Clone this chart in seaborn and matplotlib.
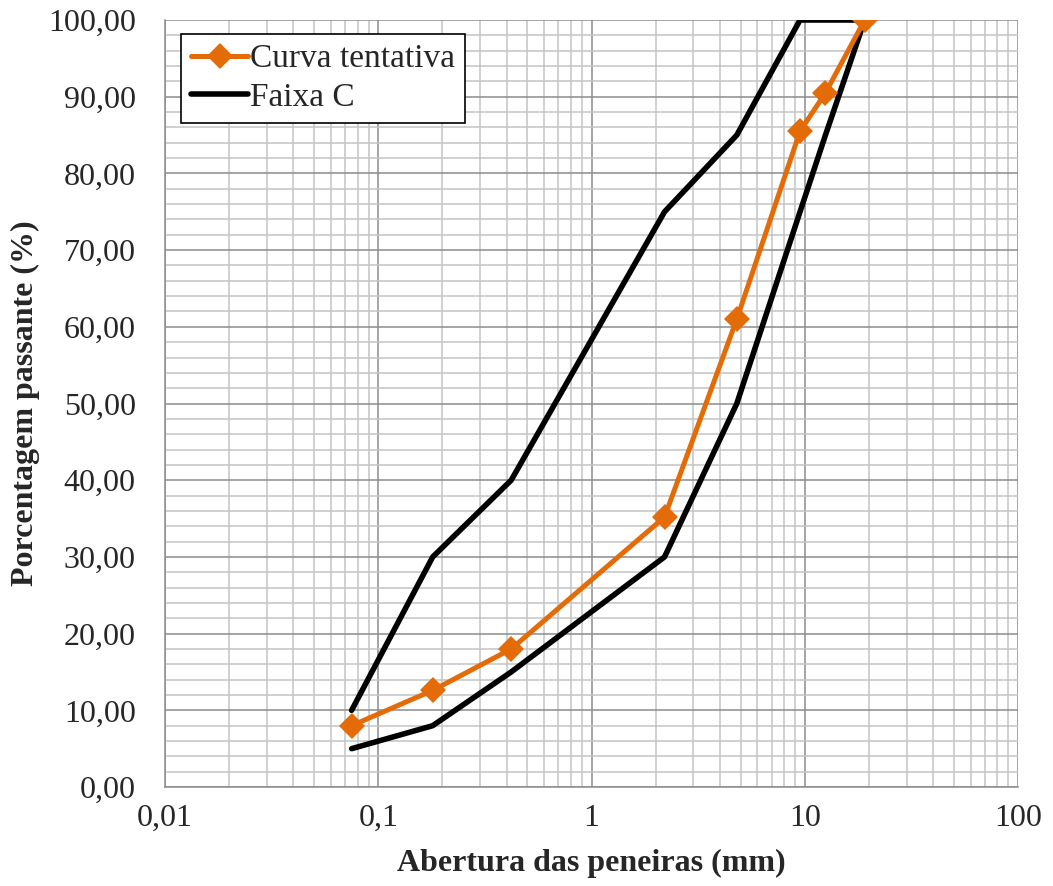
import numpy as np
import pandas as pd
import matplotlib
matplotlib.use("Agg")
import matplotlib.pyplot as plt
import seaborn as sns
from matplotlib.ticker import FuncFormatter, LogLocator, MultipleLocator

# ------------------ DATA ------------------

sieves = [0.075, 0.18, 0.42, 2.2, 4.8, 9.5, 12.5, 19.1]
curva_tentativa = [8.0, 12.6, 18.0, 35.2, 61.0, 85.5, 90.5, 100.0]
faixa_sup = [10.0, 30.0, 40.0, 75.0, 85.0, 100.0, 100.0, 100.0]
faixa_inf = [5.0, 8.0, 15.0, 30.0, 50.0, 75.0, 85.0, 100.0]

x_ticks = [0.01, 0.1, 1, 10, 100]
x_tick_labels = ["0,01", "0,1", "1", "10", "100"]

df = pd.DataFrame({
    "abertura": sieves,
    "curva": curva_tentativa,
    "sup": faixa_sup,
    "inf": faixa_inf,
})

# ------------------ STYLE ------------------

sns.set_style("white")
plt.rcParams["font.family"] = ["Liberation Serif", "DejaVu Serif"]

ORANGE = "#E36C09"
GRID_MAJOR = "#8c8c8c"
GRID_MINOR = "#c4c4c4"

fig = plt.figure(figsize=(10.53, 8.86), dpi=100)
ax = fig.add_axes([0.1567, 0.1117, 0.8101, 0.8657])

# ------------------ PLOT ------------------

sns.lineplot(data=df, x="abertura", y="curva", ax=ax, color=ORANGE,
             linewidth=3.6, marker="D", markersize=13.5, markeredgewidth=0,
             sort=False, label="Curva tentativa", zorder=4)
sns.lineplot(data=df, x="abertura", y="sup", ax=ax, color="black",
             linewidth=4.0, sort=False, label="Faixa C", zorder=3)
sns.lineplot(data=df, x="abertura", y="inf", ax=ax, color="black",
             linewidth=4.0, sort=False, label="_nolegend_", zorder=3)

ax.set_xscale("log")
ax.set_xlim(0.01, 100)
ax.set_ylim(0, 100)

ax.xaxis.set_minor_locator(LogLocator(base=10, subs=np.arange(2, 10), numticks=50))
ax.set_xticks(x_ticks)
ax.set_xticklabels(x_tick_labels)

ax.yaxis.set_major_locator(MultipleLocator(10))
ax.yaxis.set_minor_locator(MultipleLocator(2))
ax.yaxis.set_major_formatter(FuncFormatter(lambda v, p: f"{v:.2f}".replace(".", ",")))

ax.grid(which="major", color=GRID_MAJOR, linewidth=1.1)
ax.grid(which="minor", color=GRID_MINOR, linewidth=1.1)
ax.set_axisbelow(True)

ax.tick_params(which="major", direction="out", length=7, width=1.1,
               color=GRID_MAJOR, labelsize=23)
ax.tick_params(axis="y", which="major", pad=14)
ax.tick_params(axis="x", which="major", pad=5)
ax.tick_params(which="minor", length=0)

for side in ["top", "right"]:
    ax.spines[side].set_visible(False)
for side in ["left", "bottom"]:
    ax.spines[side].set_color(GRID_MAJOR)
    ax.spines[side].set_linewidth(1.1)

ax.set_xlabel("Abertura das peneiras (mm)", fontsize=23, fontweight="bold", labelpad=12)
ax.set_ylabel("Porcentagem passante (%)", fontsize=23, fontweight="bold", labelpad=6)

leg = ax.legend(loc="upper left", bbox_to_anchor=(0.019, 0.982), fontsize=24,
                frameon=True, fancybox=False, edgecolor="black", framealpha=1,
                handlelength=1.7, handletextpad=0.05, borderpad=0.3,
                labelspacing=0.25, borderaxespad=0)
leg.get_frame().set_linewidth(1.2)

plt.savefig("out.png", dpi=100)
plt.close()
